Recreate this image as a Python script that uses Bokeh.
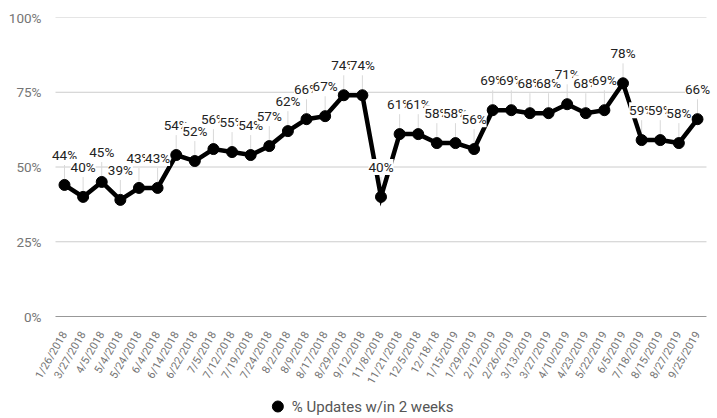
import math
from bokeh.plotting import figure
from bokeh.layouts import column
from bokeh.models import Range1d, FixedTicker, ColumnDataSource
from bokeh.core.properties import value
from bokeh.embed import file_html
from bokeh.resources import INLINE

dates = ["1/26/2018", "3/27/2018", "4/5/2018", "5/4/2018", "5/24/2018", "6/4/2018",
         "6/14/2018", "6/22/2018", "7/5/2018", "7/12/2018", "7/19/2018", "7/24/2018",
         "8/2/2018", "8/9/2018", "8/17/2018", "8/29/2018", "9/12/2018", "11/8/2018",
         "11/21/2018", "12/5/2018", "12/18/18", "1/15/2019", "1/29/2019", "2/12/2019",
         "2/26/2019", "3/13/2019", "3/27/2019", "4/10/2019", "4/23/2019", "5/22/2019",
         "6/5/2019", "7/18/2019", "8/15/2019", "8/27/2019", "9/25/2019"]
pct = [44, 40, 45, 39, 43, 43, 54, 52, 56, 55, 54, 57, 62, 66, 67, 74, 74, 40,
       61, 61, 58, 58, 56, 69, 69, 68, 68, 71, 68, 69, 78, 59, 59, 58, 66]
y_ticks = [0, 25, 50, 75, 100]
series_name = "% Updates w/in 2 weeks"

FONT = "Roboto"
n = len(dates)
xs = list(range(n))
px = 100 / 300  # data units per pixel (frame is 300 px tall)
src = ColumnDataSource(dict(
    x=xs, y=pct,
    stem_top=[v + 20 * px for v in pct],
    lab_y=[v + 22 * px for v in pct],
    lab=[f"{v}%" for v in pct],
))

# gridline extent: half a category step beyond first/last category
g0, g1 = -0.483, (n - 1) + 0.483
grid = ColumnDataSource(dict(x0=[g0] * len(y_ticks), x1=[g1] * len(y_ticks), y=y_ticks,
                             c=["#333333" if t == 0 else "#cccccc" for t in y_ticks]))

p = figure(width=717, height=392, output_backend="svg", toolbar_location=None,
           x_range=Range1d(-0.913, (n - 1) + 0.86), y_range=Range1d(0, 100),
           min_border_left=47, min_border_right=4, min_border_top=17, min_border_bottom=75)
p.outline_line_color = None
p.background_fill_color = "white"
p.xgrid.grid_line_color = None
p.ygrid.grid_line_color = None

p.segment(x0="x0", y0="y", x1="x1", y1="y", source=grid, line_color="c", line_width=1)
p.segment(x0="x", y0="y", x1="x", y1="stem_top", source=src,
          line_color="#d9d9d9", line_width=1)
p.line("x", "y", source=src, line_color="black", line_width=4.5, line_join="miter")
p.scatter("x", "y", source=src, size=11, fill_color="black", line_color="black")
p.text("x", "lab_y", text="lab", source=src, text_align="center", text_baseline="bottom",
       text_font=value(FONT), text_font_size="13.5px", text_color="#222222",
       background_fill_color="white")

p.yaxis.ticker = FixedTicker(ticks=y_ticks)
p.yaxis.major_label_overrides = {t: f"{t}%" for t in y_ticks}
p.yaxis.axis_line_color = None
p.yaxis.major_tick_line_color = None
p.yaxis.minor_tick_line_color = None
p.yaxis.major_label_text_font = FONT
p.yaxis.major_label_text_font_size = "13.5px"
p.yaxis.major_label_text_color = "#757575"
p.yaxis.major_label_standoff = 0

p.xaxis.ticker = FixedTicker(ticks=xs)
p.xaxis.major_label_overrides = {i: d for i, d in enumerate(dates)}
p.xaxis.major_label_orientation = math.radians(60)
p.xaxis.axis_line_color = None
p.xaxis.major_tick_line_color = None
p.xaxis.minor_tick_line_color = None
p.xaxis.major_label_text_font = FONT
p.xaxis.major_label_text_font_size = "11px"
p.xaxis.major_label_text_color = "#757575"
p.xaxis.major_label_standoff = 10

# legend drawn in its own strip below the chart
lg = figure(width=717, height=26, output_backend="svg", toolbar_location=None,
            x_range=Range1d(0, 717), y_range=Range1d(0, 26),
            min_border=0, x_axis_type=None, y_axis_type=None)
lg.outline_line_color = None
lg.xgrid.grid_line_color = None
lg.ygrid.grid_line_color = None
lg.scatter(x=[248], y=[12], size=11, fill_color="black", line_color="black")
lg.text(x=[263], y=[12], text=[series_name], text_align="left", text_baseline="middle",
        text_font=value(FONT), text_font_size="15px", text_color="#555555")

layout = column(p, lg, spacing=0)
open("out.html", "w").write(file_html(layout, INLINE))
